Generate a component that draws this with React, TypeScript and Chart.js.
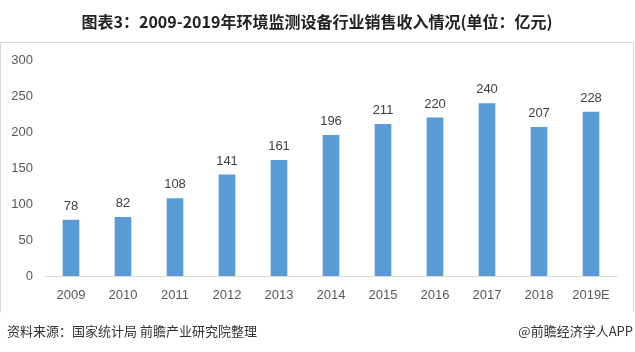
import React, { useEffect, useRef } from "react";
import { Chart, registerables } from "chart.js";

Chart.register(...registerables);

const categories = ["2009", "2010", "2011", "2012", "2013", "2014", "2015", "2016", "2017", "2018", "2019E"];
const revenue = [78, 82, 108, 141, 161, 196, 211, 220, 240, 207, 228];
const yTicks = [0, 50, 100, 150, 200, 250, 300];

const titleText = "图表3：2009-2019年环境监测设备行业销售收入情况(单位：亿元)";
const sourceText = "资料来源：国家统计局 前瞻产业研究院整理";
const brandText = "@前瞻经济学人APP";

const decorPlugin = {
  id: "decor",
  beforeDraw(chart: any) {
    const ctx = chart.ctx;
    ctx.save();
    ctx.fillStyle = "#ffffff";
    ctx.fillRect(0, 0, chart.width, chart.height);
    // frame
    ctx.strokeStyle = "#D9D9D9";
    ctx.lineWidth = 1;
    ctx.beginPath();
    ctx.moveTo(0.5, 312.5);
    ctx.lineTo(0.5, 42.5);
    ctx.lineTo(633.5, 42.5);
    ctx.lineTo(633.5, 312.5);
    ctx.stroke();
    // title
    ctx.fillStyle = "#222222";
    ctx.font = "bold 16px 'Noto Sans CJK SC', sans-serif";
    ctx.textAlign = "center";
    ctx.textBaseline = "middle";
    ctx.fillText(titleText, 317, 22);
    // footer
    ctx.fillStyle = "#333333";
    ctx.font = "13px 'Noto Sans CJK SC', sans-serif";
    ctx.textAlign = "left";
    ctx.fillText(sourceText, 7, 331);
    ctx.textAlign = "right";
    ctx.fillText(brandText, 633, 331);
    ctx.restore();
  },
  afterDatasetsDraw(chart: any) {
    const ctx = chart.ctx;
    const meta = chart.getDatasetMeta(0);
    ctx.save();
    ctx.fillStyle = "#404040";
    ctx.font = "13px 'Liberation Sans', sans-serif";
    ctx.textAlign = "center";
    ctx.textBaseline = "bottom";
    meta.data.forEach((bar: any, i: number) => {
      ctx.fillText(String(revenue[i]), bar.x, bar.y - 7);
    });
    ctx.restore();
  },
};

export default function App() {
  const ref = useRef<HTMLCanvasElement | null>(null);
  useEffect(() => {
    if (!ref.current) return;
    const chart = new Chart(ref.current, {
      type: "bar",
      data: {
        labels: categories,
        datasets: [
          {
            data: revenue,
            backgroundColor: "#5B9BD5",
            borderWidth: 0,
            categoryPercentage: 1,
            barPercentage: 0.32,
          },
        ],
      },
      options: {
        animation: false,
        responsive: false,
        events: [],
        layout: { padding: { top: 60, left: 0, right: 18, bottom: 0 } },
        plugins: {
          legend: { display: false },
          title: { display: false },
          tooltip: { enabled: false },
        },
        scales: {
          x: {
            offset: true,
            grid: { display: false, drawTicks: false },
            border: { display: true, color: "#D9D9D9", width: 1 },
            ticks: {
              color: "#595959",
              font: { family: "'Liberation Sans', sans-serif", size: 13 },
              padding: 12,
              maxRotation: 0,
              autoSkip: false,
            },
            afterFit(scale: any) {
              scale.height = 76;
            },
          },
          y: {
            min: 0,
            max: 300,
            afterBuildTicks(scale: any) {
              scale.ticks = yTicks.map((v) => ({ value: v }));
            },
            grid: { display: false, drawTicks: false },
            border: { display: false },
            ticks: {
              color: "#595959",
              font: { family: "'Liberation Sans', sans-serif", size: 13 },
              padding: 12,
            },
            afterFit(scale: any) {
              scale.width = 45;
            },
          },
        },
      },
      plugins: [decorPlugin],
    });
    return () => chart.destroy();
  }, []);
  return (
    <div style={{ position: "absolute", left: 0, top: 0, width: 635, height: 352, background: "#fff" }}>
      <canvas ref={ref} width={635} height={352} style={{ display: "block", width: 635, height: 352 }} />
    </div>
  );
}
